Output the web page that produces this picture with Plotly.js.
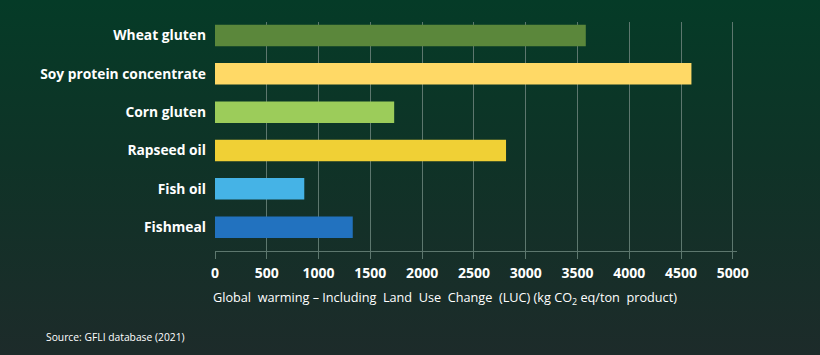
<!DOCTYPE html>
<html>
<head>
<meta charset="utf-8">
<script src="https://cdn.plot.ly/plotly-3.0.1.min.js"></script>
<style>
html,body{margin:0;padding:0;}
body{width:820px;height:355px;background:linear-gradient(180deg,#053b27 0%,#0f3327 45%,#1d2b2a 100%);overflow:hidden;}
#chart{width:820px;height:355px;}
</style>
</head>
<body>
<div id="chart"></div>
<script>
const categories = ["Wheat gluten","Soy protein concentrate","Corn gluten","Rapseed oil","Fish oil","Fishmeal"];
const values = [3580, 4600, 1730, 2810, 862, 1330];
const barColors = ["#5b873b","#ffd966","#9ccc5a","#f0d035","#45b3e6","#2272bf"];
const tickVals = [0,500,1000,1500,2000,2500,3000,3500,4000,4500,5000];
const tickText = ["0","500","1000","1500","2000","2500","3000","3500","4000","4500","5000"];
const xTitle = "Global\u00a0 warming \u2013 Including\u00a0 Land\u00a0 Use\u00a0 Change\u00a0 (LUC) (kg CO<sub>2</sub> eq/ton\u00a0 product)";
const sourceText = "Source: GFLI database (2021)";

const gridCol = "#5d776e";
const trace = {
  type: "bar",
  orientation: "h",
  x: values,
  y: categories,
  marker: {color: barColors, line: {width: 0}},
  hoverinfo: "none"
};
const layout = {
  width: 820, height: 355,
  margin: {l: 215, r: 83, t: 22, b: 104},
  paper_bgcolor: "rgba(0,0,0,0)",
  plot_bgcolor: "rgba(0,0,0,0)",
  bargap: 0.44,
  showlegend: false,
  font: {family: "Open Sans, sans-serif", color: "#ffffff"},
  xaxis: {
    range: [0, 5040],
    tickvals: tickVals, ticktext: tickText,
    showgrid: true, gridcolor: gridCol, gridwidth: 1,
    zeroline: false,
    showline: true, linecolor: gridCol, linewidth: 1,
    ticks: "outside", ticklen: 7, tickcolor: gridCol, tickwidth: 1,
    ticklabelstandoff: 2,
    tickfont: {family: "Open Sans, sans-serif", size: 14, color: "#ffffff", weight: 700},
    fixedrange: true
  },
  yaxis: {
    type: "category",
    categoryorder: "array", categoryarray: categories,
    range: [5.62, -0.35],
    showgrid: false, zeroline: false, showline: false,
    ticks: "", ticklabelstandoff: 8,
    tickfont: {family: "Open Sans, sans-serif", size: 13.8, color: "#ffffff", weight: 700},
    fixedrange: true
  },
  annotations: [{
    xref: "paper", yref: "paper", x: 0, y: 0,
    xanchor: "left", yanchor: "middle", xshift: -4, yshift: -47,
    text: xTitle, showarrow: false,
    font: {family: "Open Sans, sans-serif", size: 12.7, color: "#ffffff"}
  }, {
    xref: "paper", yref: "paper", x: 0, y: 0,
    xanchor: "left", yanchor: "middle", xshift: -171, yshift: -86,
    text: sourceText, showarrow: false,
    font: {family: "Open Sans, sans-serif", size: 10.3, color: "#ffffff"}
  }]
};
Plotly.newPlot("chart", [trace], layout, {displayModeBar: false, staticPlot: true});
</script>
</body>
</html>
